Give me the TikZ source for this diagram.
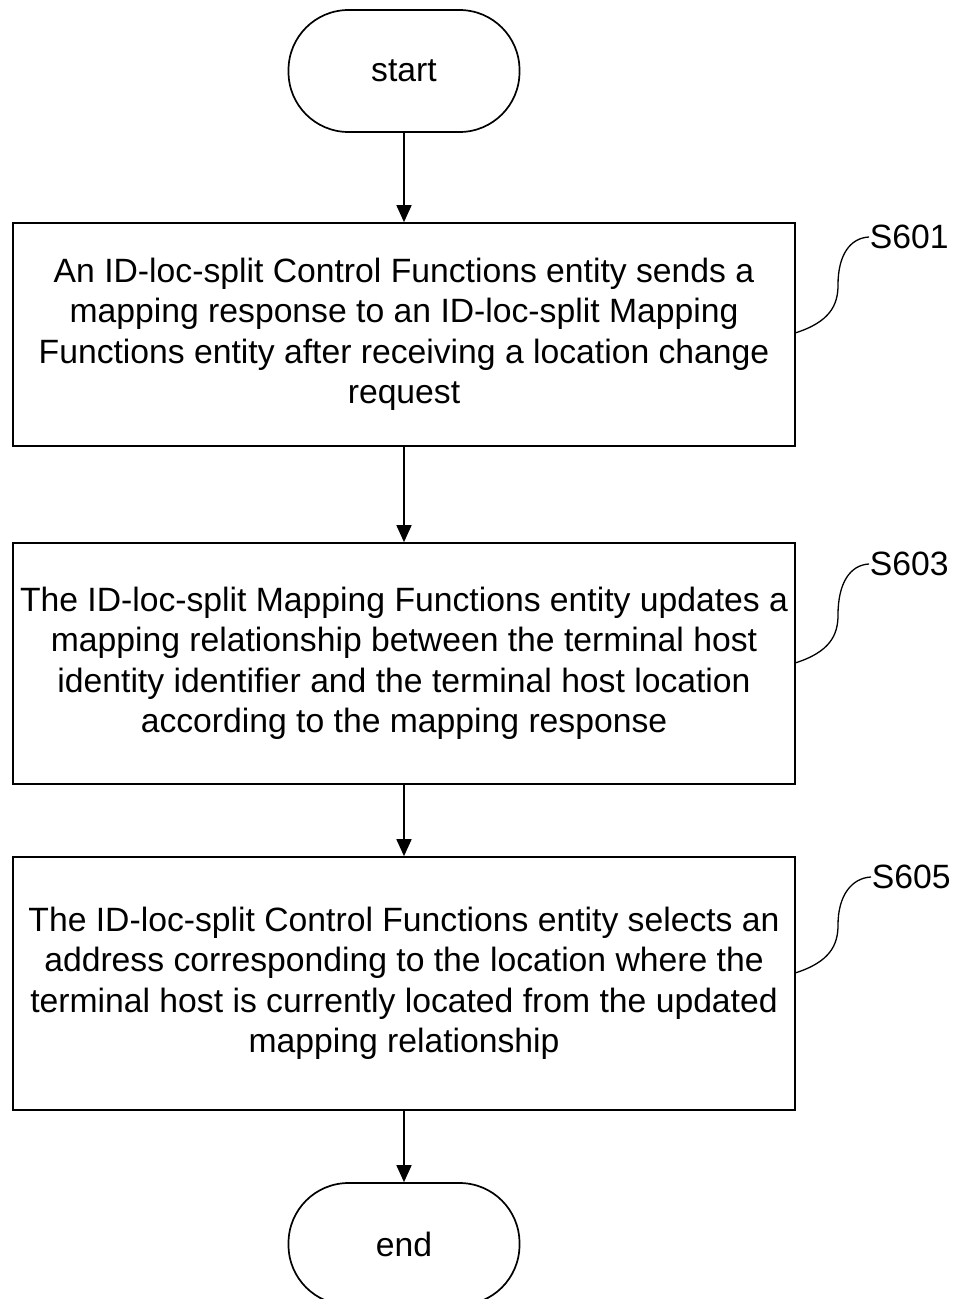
\documentclass[tikz,border=0pt]{standalone}
\usepackage{fontspec}
\setmainfont{Liberation Sans}
\usetikzlibrary{arrows.meta}
\tikzset{
  every picture/.style={line width=1.7pt},
  term/.style={draw, rounded corners=60pt, minimum width=231pt, minimum height=122pt, inner sep=0pt, font=\fontsize{33.7}{40.5}\selectfont},
  stepbox/.style={draw, minimum width=782pt, inner sep=0pt, align=center, font=\fontsize{33.7}{40.5}\selectfont},
  arr/.style={-{Triangle[length=17pt,width=15pt]}},
  lbl/.style={anchor=west, inner sep=0pt, font=\fontsize{33.7}{40}\selectfont},
}
\begin{document}
\begin{tikzpicture}[x=1pt,y={(0pt,-1pt)}]
\useasboundingbox (0,0) rectangle (957,1299);
\node[term] (start) at (404,71) {start};
\node[stepbox, minimum height=223pt] (s1) at (404,334.5) {An ID-loc-split Control Functions entity sends a\\mapping response to an ID-loc-split Mapping\\Functions entity after receiving a location change\\request};
\node[stepbox, minimum height=241pt] (s2) at (404,663.5) {The ID-loc-split Mapping Functions entity updates a\\mapping relationship between the terminal host\\identity identifier and the terminal host location\\according to the mapping response};
\node[stepbox, minimum height=253pt] (s3) at (404,983.5) {The ID-loc-split Control Functions entity selects an\\address corresponding to the location where the\\terminal host is currently located from the updated\\mapping relationship};
\node[term] (end) at (404,1244) {end};
\draw[arr] (start.south) -- (s1.north);
\draw[arr] (s1.south) -- (s2.north);
\draw[arr] (s2.south) -- (s3.north);
\draw[arr] (s3.south) -- (end.north);
% step labels
\node[lbl] (l1) at (869,237) {S601};
\node[lbl] (l2) at (869,564) {S603};
\node[lbl] (l3) at (871,877) {S605};
\coordinate (c1) at (795,333);
\coordinate (c2) at (795,663);
\coordinate (c3) at (795,973);
\draw[line width=1.3pt] (c1) .. controls (830,322) and (838,305) .. (838,285) .. controls (838,255) and (850,238) .. (l1.west);
\draw[line width=1.3pt] (c2) .. controls (830,652) and (838,635) .. (838,615) .. controls (838,583) and (850,565) .. (l2.west);
\draw[line width=1.3pt] (c3) .. controls (830,962) and (838,945) .. (838,925) .. controls (838,895) and (852,878) .. (l3.west);
\end{tikzpicture}
\end{document}
